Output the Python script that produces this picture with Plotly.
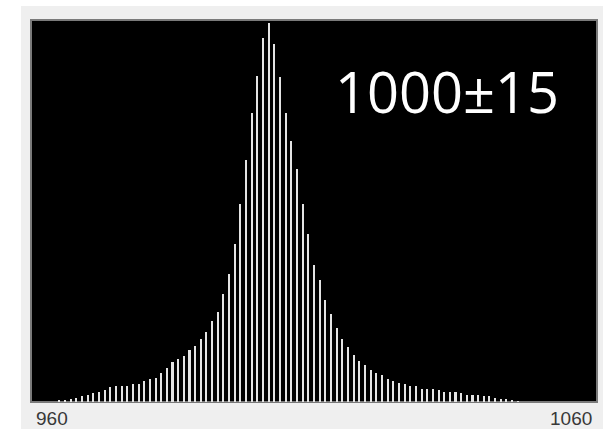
import plotly.graph_objects as go

# Histogram of measured values (one bin per unit)
values = list(range(965, 1047))
counts = [
    1.5, 1.5, 3.2, 4.5, 6, 7.5, 9, 10.5, 12, 15,
    16.5, 16.5, 16.5, 18, 18, 21, 23, 24.3, 29, 33.7,
    39.7, 42.7, 45.7, 52, 56.3, 62.7, 70, 81, 90, 108.3,
    128.3, 158.3, 198.3, 242.3, 289.3, 326, 364, 379.3, 358, 324.7,
    289.3, 260.7, 233.3, 198.3, 167.7, 137.3, 121.7, 101.7, 88.3, 74.3,
    62.7, 54.7, 47.3, 41, 36.7, 32.3, 29, 27.3, 23, 21,
    19.3, 17.7, 16.3, 16.3, 13.3, 13.3, 13.3, 11.7, 10.3, 10.3,
    10.3, 8.7, 7.3, 7.3, 7.3, 5.7, 5.7, 4.3, 3, 2.7,
    1.3, 1,
]
axis_min, axis_max = 960, 1060
tick_labels = ["960", "1060"]
title_text = "1000\u00b115"

W, H = 613, 429
L, R, T, B = 31, 16, 20, 27

fig = go.Figure()
fig.add_trace(go.Bar(
    x=values, y=counts, width=0.36,
    marker=dict(color="#e4e4e4", line=dict(width=0)),
    hoverinfo="x+y",
))

pw = W - L - R
ph = H - T - B
def px_x(p):
    return (p - L) / pw
def px_y(p):
    return 1 - (p - T) / ph

shapes = [
    # light grey panel behind the chart
    dict(type="rect", xref="paper", yref="paper", layer="below",
         x0=px_x(21), x1=px_x(603), y0=px_y(H + 2), y1=px_y(6),
         fillcolor="#efefef", line=dict(width=0)),
    # black plotting area with a dark rim
    dict(type="rect", xref="paper", yref="paper", layer="below",
         x0=0, x1=1, y0=0, y1=1,
         fillcolor="#000000", line=dict(color="#7a7a7a", width=2)),
]

label_font = dict(family="Liberation Sans Narrow, Liberation Sans, sans-serif",
                  size=19, color="#383838")
annotations = [
    dict(x=axis_min, y=px_y(418), xref="x", yref="paper", xanchor="left",
         yanchor="middle", xshift=3, text=tick_labels[0], showarrow=False,
         font=label_font),
    dict(x=axis_max, y=px_y(418), xref="x", yref="paper", xanchor="right",
         yanchor="middle", xshift=-3, text=tick_labels[1], showarrow=False,
         font=label_font),
    dict(x=px_x(447), y=px_y(91), xref="paper", yref="paper",
         xanchor="center", yanchor="middle", text=title_text, showarrow=False,
         font=dict(family="Open Sans, sans-serif", size=56, color="#ffffff")),
]

fig.update_layout(
    width=W, height=H,
    margin=dict(l=L, r=R, t=T, b=B, pad=0),
    paper_bgcolor="#ffffff",
    plot_bgcolor="rgba(0,0,0,0)",
    showlegend=False,
    bargap=0,
    shapes=shapes,
    annotations=annotations,
    xaxis=dict(range=[axis_min, axis_max], showgrid=False, zeroline=False,
               showticklabels=False, ticks="", showline=False, fixedrange=True),
    yaxis=dict(range=[0, 382], showgrid=False, zeroline=False,
               showticklabels=False, ticks="", showline=False, fixedrange=True),
)

fig.write_html("out.html", config={"displayModeBar": False})
